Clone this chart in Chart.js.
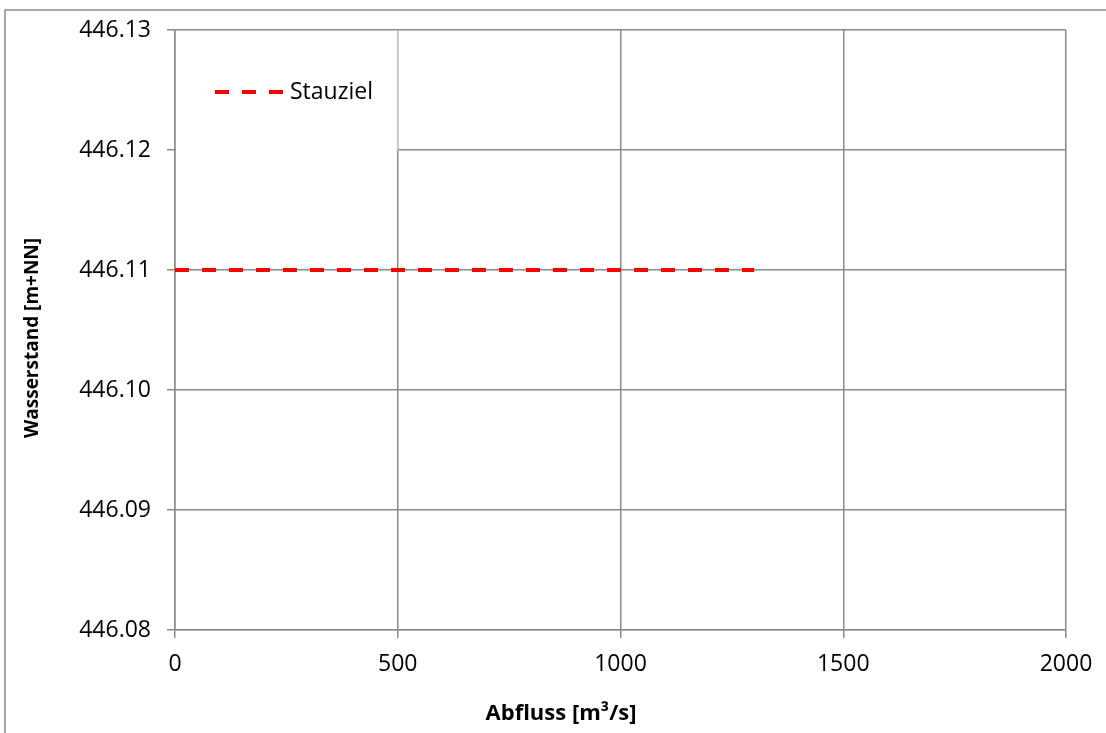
<!DOCTYPE html>
<html>
<head>
<meta charset="utf-8">
<script src="https://cdn.jsdelivr.net/npm/chart.js@4"></script>
<style>
  html, body { margin: 0; padding: 0; background: #fff; }
  #wrap { width: 1106px; height: 733px; }
</style>
</head>
<body>
<div id="wrap"><canvas id="grafico"></canvas></div>
<script>
// datos del grafico
const abfluss = [0, 1300];
const stauziel = [446.11, 446.11];
const xTicks = [0, 500, 1000, 1500, 2000];
const yTicks = [446.08, 446.09, 446.10, 446.11, 446.12, 446.13];
const serieNombre = 'Stauziel';
const tituloX = 'Abfluss [m³/s]';
const tituloY = 'Wasserstand [m+NN]';

const gris = '#898989';
const fuente = '"Open Sans", sans-serif';

// marco, leyenda y titulos dibujados a mano
const extras = {
  id: 'extras',
  beforeDraw(chart) {
    const ctx = chart.ctx;
    ctx.save();
    ctx.fillStyle = '#fff';
    ctx.fillRect(0, 0, chart.width, chart.height);
    ctx.strokeStyle = gris;
    ctx.lineWidth = 1.5;
    ctx.beginPath();
    ctx.moveTo(5, chart.height + 5);
    ctx.lineTo(5, 10);
    ctx.lineTo(chart.width + 5, 10);
    ctx.stroke();
    ctx.restore();
  },
  beforeDatasetsDraw(chart) {
    const ctx = chart.ctx;
    const a = chart.chartArea;
    const xs = chart.scales.x;
    const ys = chart.scales.y;
    const bx2 = xs.getPixelForValue(500) - 1;
    const by2 = ys.getPixelForValue(446.12) + 1;
    ctx.save();
    ctx.fillStyle = '#fff';
    ctx.fillRect(a.left + 1, a.top + 1, bx2 - a.left - 1, by2 - a.top - 1);
    ctx.strokeStyle = '#e4e4e4';
    ctx.lineWidth = 1;
    ctx.beginPath();
    ctx.moveTo(bx2 + 0.5, a.top);
    ctx.lineTo(bx2 + 0.5, by2);
    ctx.stroke();
    ctx.restore();
  },
  afterDraw(chart) {
    const ctx = chart.ctx;
    const a = chart.chartArea;
    ctx.save();
    // leyenda
    const ly = a.top + 62;
    ctx.strokeStyle = '#ff0000';
    ctx.lineWidth = 4;
    ctx.setLineDash([14, 13]);
    ctx.beginPath();
    ctx.moveTo(a.left + 40, ly);
    ctx.lineTo(a.left + 108, ly);
    ctx.stroke();
    ctx.setLineDash([]);
    ctx.fillStyle = '#000';
    ctx.font = '23px ' + fuente;
    ctx.textBaseline = 'middle';
    ctx.textAlign = 'left';
    ctx.fillText(serieNombre, a.left + 115, ly);
    // titulos de ejes
    ctx.font = 'bold 22px ' + fuente;
    ctx.textAlign = 'center';
    ctx.fillText(tituloX, 561, 714);
    ctx.font = 'bold 19px ' + fuente;
    ctx.translate(33, 338);
    ctx.rotate(-Math.PI / 2);
    ctx.fillText(tituloY, 0, 0);
    ctx.restore();
  }
};

const ctx = document.getElementById('grafico');
const myChart = new Chart(ctx, {
  type: 'line',
  data: {
    datasets: [{
      label: serieNombre,
      data: abfluss.map((x, i) => ({ x: x, y: stauziel[i] })),
      borderColor: '#ff0000',
      borderWidth: 4,
      borderDash: [14, 13],
      pointRadius: 0,
      fill: false
    }]
  },
  options: {
    responsive: true,
    maintainAspectRatio: false,
    animation: false,
    layout: { padding: { top: 30, right: 40, left: 0, bottom: 0 } },
    plugins: { legend: { display: false }, tooltip: { enabled: false } },
    scales: {
      x: {
        type: 'linear',
        min: xTicks[0],
        max: xTicks[xTicks.length - 1],
        afterBuildTicks: (s) => { s.ticks = xTicks.map(v => ({ value: v })); },
        afterFit: (s) => { s.height = 103; },
        grid: { color: gris, lineWidth: 1.5, tickLength: 8 },
        border: { color: gris, width: 1.5 },
        ticks: {
          color: '#000',
          font: { family: fuente, size: 23 },
          padding: 13,
          maxRotation: 0,
          callback: (v) => String(v)
        }
      },
      y: {
        type: 'linear',
        min: yTicks[0],
        max: yTicks[yTicks.length - 1],
        afterBuildTicks: (s) => { s.ticks = yTicks.map(v => ({ value: v })); },
        afterFit: (s) => { s.width = 175; },
        grid: { color: gris, lineWidth: 1.5, tickLength: 8 },
        border: { color: gris, width: 1.5 },
        ticks: {
          color: '#000',
          font: { family: fuente, size: 23 },
          padding: 16,
          callback: (v) => Number(v).toFixed(2)
        }
      }
    }
  },
  plugins: [extras]
});
</script>
</body>
</html>
